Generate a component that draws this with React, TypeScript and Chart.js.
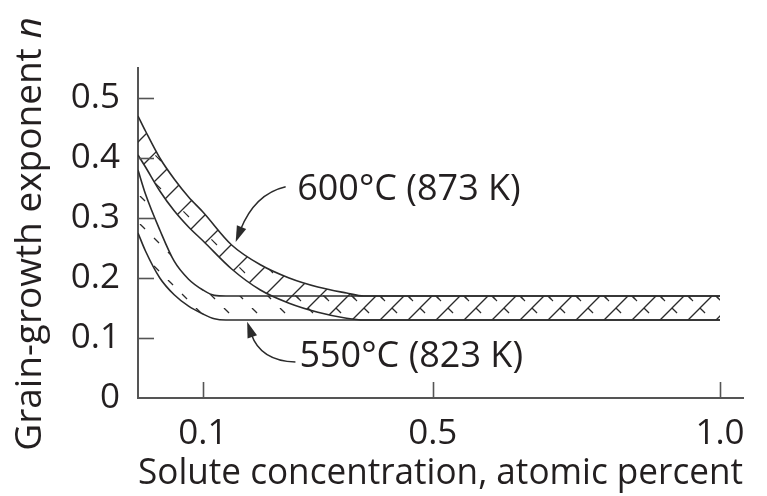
import { useEffect, useRef } from "react";
import { Chart, registerables } from "chart.js";

Chart.register(...registerables);

// Axis ticks
const xTicks = [0.1, 0.5, 1.0];
const xTickLabels = ["0.1", "0.5", "1.0"];
const yTicks = [0, 0.1, 0.2, 0.3, 0.4, 0.5];
const yTickLabels = ["0", "0.1", "0.2", "0.3", "0.4", "0.5"];

// 600 °C (873 K) band: solute concentration (at.%) vs. grain-growth exponent n
const hotX = [-0.013, 0, 0.025, 0.05, 0.075, 0.1, 0.15, 0.2, 0.25, 0.3, 0.35, 0.38, 1.0];
const hotUpper = [0.47, 0.445, 0.4, 0.365, 0.335, 0.31, 0.255, 0.222, 0.2, 0.185, 0.175, 0.17, 0.17];
const hotLower = [0.405, 0.385, 0.345, 0.312, 0.285, 0.262, 0.215, 0.18, 0.158, 0.143, 0.133, 0.13, 0.13];

// 550 °C (823 K) band
const coolX = [-0.013, 0, 0.025, 0.05, 0.075, 0.1, 0.12, 0.14, 1.0];
const coolUpper = [0.38, 0.34, 0.28, 0.228, 0.198, 0.18, 0.171, 0.17, 0.17];
const coolLower = [0.275, 0.245, 0.2, 0.172, 0.153, 0.14, 0.132, 0.13, 0.13];

const bandLabels = ["600°C (873 K)", "550°C (823 K)"];

const FONT = '"Open Sans", "Noto Sans", sans-serif';
const INK = "#231f20";
const LINE = "#2b2b2b";

// label anchor and arrow (tail, bend, tip), in data units
const callouts = [
  { label: bandLabels[0], at: [0.264, 0.347], tail: [0.244, 0.352], bend: [0.19, 0.34], tip: [0.157, 0.26] },
  { label: bandLabels[1], at: [0.268, 0.068], tail: [0.261, 0.06], bend: [0.2, 0.062], tip: [0.177, 0.127] },
];

function pts(xs: number[], ys: number[]) {
  return xs.map((x, i) => ({ x, y: ys[i] }));
}

function makeHatch(kind: "solid" | "dashed") {
  const s = 28;
  const c = document.createElement("canvas");
  c.width = s;
  c.height = s;
  const g = c.getContext("2d")!;
  g.strokeStyle = LINE;
  g.lineWidth = 1.3;
  g.lineCap = "butt";
  if (kind === "solid") {
    for (const o of [-s, 0, s]) {
      g.beginPath();
      g.moveTo(o - 2, s + 2);
      g.lineTo(o + s + 2, -2);
      g.stroke();
    }
    // short back-slash ticks between the rungs
    g.lineWidth = 1.1;
    g.beginPath();
    g.moveTo(s * 0.55, s * 0.55);
    g.lineTo(s * 0.75, s * 0.75);
    g.stroke();
  } else {
    const L = s * Math.SQRT2;
    g.setLineDash([L * 0.18, L * 0.32]);
    for (const o of [-s, 0, s]) {
      g.beginPath();
      g.moveTo(o, 0);
      g.lineTo(o + s, s);
      g.stroke();
    }
  }
  return g.createPattern(c, "repeat")!;
}

const decorPlugin = {
  id: "decor",
  afterDraw(chart: any) {
    const { ctx, chartArea, scales } = chart;
    const xs = scales.x;
    const ys = scales.y;
    ctx.save();
    // inward tick marks
    ctx.strokeStyle = "#555";
    ctx.lineWidth = 1.6;
    const tl = 16;
    yTicks.forEach((v) => {
      if (v === 0) return;
      const py = Math.round(ys.getPixelForValue(v)) + 0.5;
      ctx.beginPath();
      ctx.moveTo(chartArea.left, py);
      ctx.lineTo(chartArea.left + tl, py);
      ctx.stroke();
    });
    xTicks.forEach((v) => {
      const px = Math.round(xs.getPixelForValue(v)) + 0.5;
      ctx.beginPath();
      ctx.moveTo(px, chartArea.bottom);
      ctx.lineTo(px, chartArea.bottom - tl);
      ctx.stroke();
    });

    // callouts
    callouts.forEach((c) => {
      const P = (p: number[]) => [xs.getPixelForValue(p[0]), ys.getPixelForValue(p[1])];
      const [tx, ty] = P(c.tail);
      const [bx, by] = P(c.bend);
      const [hx, hy] = P(c.tip);
      ctx.strokeStyle = LINE;
      ctx.fillStyle = LINE;
      ctx.lineWidth = 1.5;
      const ang = Math.atan2(hy - by, hx - bx);
      const len = 16;
      const wid = 5;
      const ex = hx - Math.cos(ang) * len * 0.8;
      const ey = hy - Math.sin(ang) * len * 0.8;
      ctx.beginPath();
      ctx.moveTo(tx, ty);
      ctx.quadraticCurveTo(bx, by, ex, ey);
      ctx.stroke();
      ctx.beginPath();
      ctx.moveTo(hx, hy);
      ctx.lineTo(hx - Math.cos(ang) * len - Math.sin(ang) * wid, hy - Math.sin(ang) * len + Math.cos(ang) * wid);
      ctx.lineTo(hx - Math.cos(ang) * len + Math.sin(ang) * wid, hy - Math.sin(ang) * len - Math.cos(ang) * wid);
      ctx.closePath();
      ctx.fill();

      const [lx, ly] = P(c.at);
      ctx.fillStyle = INK;
      ctx.font = `36px ${FONT}`;
      ctx.textAlign = "left";
      ctx.textBaseline = "middle";
      ctx.fillText(c.label, lx, ly);
    });

    // y-axis title with italic n
    const main = "Grain-growth exponent ";
    const ital = "n";
    const size = 37;
    ctx.font = `${size}px ${FONT}`;
    const w1 = ctx.measureText(main).width;
    ctx.font = `italic ${size}px ${FONT}`;
    const w2 = ctx.measureText(ital).width;
    const total = w1 + w2;
    ctx.translate(30, 234);
    ctx.rotate(-Math.PI / 2);
    ctx.fillStyle = INK;
    ctx.textBaseline = "middle";
    ctx.textAlign = "left";
    ctx.font = `${size}px ${FONT}`;
    ctx.fillText(main, -total / 2, 0);
    ctx.font = `italic ${size}px ${FONT}`;
    ctx.fillText(ital, -total / 2 + w1, 0);
    ctx.restore();
  },
};

export default function App() {
  const ref = useRef<HTMLCanvasElement | null>(null);

  useEffect(() => {
    const canvas = ref.current;
    if (!canvas) return;
    const hotFill = makeHatch("solid");
    const coolFill = makeHatch("dashed");
    const lineBase = {
      borderColor: LINE,
      borderWidth: 1.6,
      pointRadius: 0,
      cubicInterpolationMode: "monotone" as const,
    };
    const chart = new Chart(canvas, {
      type: "line",
      data: {
        datasets: [
          { ...lineBase, label: "600 upper", data: pts(hotX, hotUpper), backgroundColor: hotFill, fill: { target: "+1", above: hotFill, below: hotFill } },
          { ...lineBase, label: "600 lower", data: pts(hotX, hotLower), fill: false },
          { ...lineBase, label: "550 upper", data: pts(coolX, coolUpper), backgroundColor: coolFill, fill: { target: "+1", above: coolFill, below: coolFill } },
          { ...lineBase, label: "550 lower", data: pts(coolX, coolLower), fill: false },
        ],
      },
      options: {
        animation: false,
        responsive: false,
        devicePixelRatio: 1,
        layout: { padding: { top: 68, right: 24, left: 0, bottom: 0 } },
        plugins: { legend: { display: false }, tooltip: { enabled: false } },
        scales: {
          x: {
            type: "linear",
            min: -0.013,
            max: 1.04,
            grid: { display: false },
            border: { display: true, color: "#555", width: 2 },
            afterBuildTicks: (s: any) => {
              s.ticks = xTicks.map((v) => ({ value: v }));
            },
            afterFit: (s: any) => {
              s.height = 98;
            },
            ticks: {
              padding: 7,
              color: INK,
              font: { family: FONT, size: 35 },
              maxRotation: 0,
              callback: (v: any) => xTickLabels[xTicks.indexOf(Number(v))] ?? "",
            },
            title: {
              display: true,
              text: "Solute concentration, atomic percent",
              color: INK,
              font: { family: FONT, size: 36 },
              padding: { top: 0, bottom: 1 },
            },
          },
          y: {
            type: "linear",
            min: 0,
            max: 0.55,
            grid: { display: false },
            border: { display: true, color: "#555", width: 2 },
            afterBuildTicks: (s: any) => {
              s.ticks = yTicks.map((v) => ({ value: v }));
            },
            afterFit: (s: any) => {
              s.width = 138;
            },
            ticks: {
              padding: 10,
              color: INK,
              font: { family: FONT, size: 35 },
              callback: (v: any) => yTickLabels[yTicks.indexOf(Number(v))] ?? "",
            },
          },
        },
      },
      plugins: [decorPlugin],
    });
    return () => chart.destroy();
  }, []);

  return (
    <div style={{ position: "fixed", left: 0, top: 0, width: 767, height: 496, background: "#fff" }}>
      <canvas ref={ref} width={767} height={496} />
    </div>
  );
}
